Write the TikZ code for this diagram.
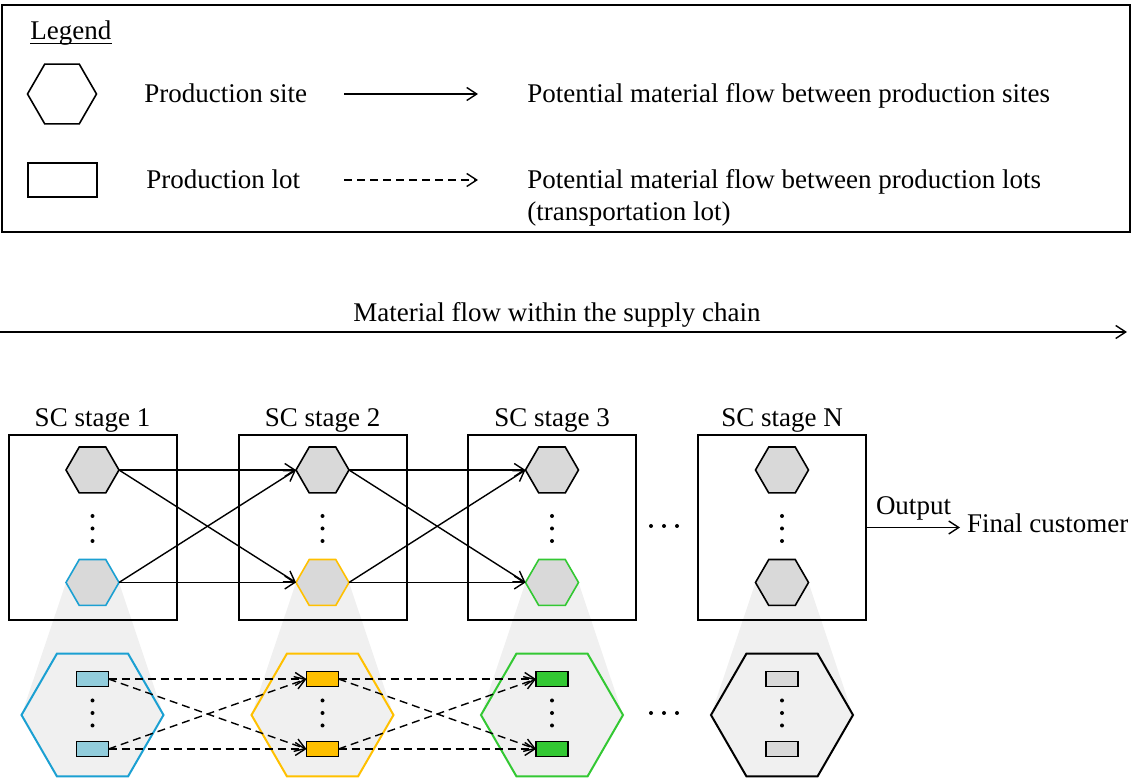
\documentclass[tikz,border=0pt]{standalone}
\usepackage{fontspec}
\setmainfont{Liberation Serif}
\usepackage{xcolor}
\usetikzlibrary{shapes.geometric,arrows.meta,positioning,backgrounds}

\definecolor{siteblue}{RGB}{27,160,210}
\definecolor{siteyellow}{RGB}{255,192,0}
\definecolor{sitegreen}{RGB}{51,200,51}
\definecolor{lotblue}{RGB}{146,205,220}
\definecolor{hexgray}{RGB}{217,217,217}
\definecolor{zoomgray}{RGB}{240,240,240}

\begin{document}
\begin{tikzpicture}[
    x=0.5pt, y=-0.5pt,
    font=\fontsize{13.5}{16}\selectfont,
    txt/.style={anchor=base west, inner sep=0pt, align=left},
    stagebox/.style={rectangle, draw, line width=1pt, minimum width=84pt, minimum height=92.5pt},
    site/.style={regular polygon, regular polygon sides=6, draw, line width=0.8pt, fill=hexgray, minimum size=26.5pt, inner sep=0pt, outer sep=0pt},
    bigsite/.style={regular polygon, regular polygon sides=6, draw, line width=1pt, fill=zoomgray, minimum size=71pt, inner sep=0pt, outer sep=0pt},
    lot/.style={rectangle, draw, line width=0.6pt, minimum width=16pt, minimum height=7.5pt, inner sep=0pt, outer sep=0pt},
    arrow/.style={-{Straight Barb[length=5pt,width=6.5pt]}, line width=0.7pt},
    dasharrow/.style={arrow, dash pattern=on 4pt off 2.5pt},
    vdots/.pic={\fill (0,-12.5) circle (1pt) (0,0) circle (1pt) (0,12.5) circle (1pt);},
    hdots/.pic={\fill (-13,0) circle (1pt) (0,0) circle (1pt) (13,0) circle (1pt);}
]
    \useasboundingbox (0,0) rectangle (1132,780);

    % legend
    \draw[line width=1.2pt] (2,5) rectangle (1130,232);
    \node[txt] (legend) at (30,40) {Legend};
    \draw[line width=0.6pt] ([yshift=-1.6pt]legend.base west) -- ([yshift=-1.6pt]legend.base east);
    \node[site, fill=none, minimum size=34.5pt] (lsite) at (62,94) {};
    \node[lot, line width=0.8pt, minimum width=34.5pt, minimum height=17pt] (llot) at (62.5,180) {};
    \node[txt] (lsitetxt) at (144,103) {Production site};
    \node[txt] (llottxt) at (146,189) {Production lot};
    \coordinate (sa) at (344,94);
    \coordinate (sb) at (478,94);
    \coordinate (la) at (344,180);
    \coordinate (lb) at (478,180);
    \draw[arrow] (sa) -- (sb);
    \draw[dasharrow] (la) -- (lb);
    \node[txt] (sflow) at (527,103) {Potential material flow between production sites};
    \node[txt] (lflow) at (527,221) {Potential material flow between production lots\\(transportation lot)};

    % material flow
    \coordinate (mfa) at (0,332);
    \coordinate (mfb) at (1127,332);
    \draw[arrow] (mfa) -- (mfb);
    \node (mftxt) at (557,315) {Material flow within the supply chain};

    % SC stage 1
    \node[stagebox] (st1) at (92.5,527.5) {};
    \node[above=-2.5pt of st1] (st1lbl) {SC stage 1};
    \node[site] (s1a) at (92.5,470) {};
    \node[site, draw=siteblue] (s1b) at (92.5,582.5) {};
    \pic at (92.5,528.5) {vdots};
    \node[bigsite, draw=siteblue] (z1) at (92.5,715) {};
    \node[lot, fill=lotblue] (l1a) at (92.5,679) {};
    \node[lot, fill=lotblue] (l1b) at (92.5,749) {};
    \pic at (92.5,713) {vdots};

    % SC stage 2
    \node[stagebox] (st2) at (322.5,527.5) {};
    \node[above=-2.5pt of st2] (st2lbl) {SC stage 2};
    \node[site] (s2a) at (322.5,470) {};
    \node[site, draw=siteyellow] (s2b) at (322.5,582.5) {};
    \pic at (322.5,528.5) {vdots};
    \node[bigsite, draw=siteyellow] (z2) at (322.5,715) {};
    \node[lot, fill=siteyellow] (l2a) at (322.5,679) {};
    \node[lot, fill=siteyellow] (l2b) at (322.5,749) {};
    \pic at (322.5,713) {vdots};

    % SC stage 3
    \node[stagebox] (st3) at (552,527.5) {};
    \node[above=-2.5pt of st3] (st3lbl) {SC stage 3};
    \node[site] (s3a) at (552,470) {};
    \node[site, draw=sitegreen] (s3b) at (552,582.5) {};
    \pic at (552,528.5) {vdots};
    \node[bigsite, draw=sitegreen] (z3) at (552,715) {};
    \node[lot, fill=sitegreen] (l3a) at (552,679) {};
    \node[lot, fill=sitegreen] (l3b) at (552,749) {};
    \pic at (552,713) {vdots};

    \pic at (664,526) {hdots};
    \pic at (664,713) {hdots};

    % SC stage N
    \node[stagebox] (stN) at (782,527.5) {};
    \node[above=-2.5pt of stN] (stNlbl) {SC stage N};
    \node[site] (sNa) at (782,470) {};
    \node[site] (sNb) at (782,582.5) {};
    \pic at (782,528.5) {vdots};
    \node[bigsite] (zN) at (782,715) {};
    \node[lot, fill=hexgray] (lNa) at (782,679) {};
    \node[lot, fill=hexgray] (lNb) at (782,749) {};
    \pic at (782,713) {vdots};

    % zoom funnels
    \begin{scope}[on background layer]
        \fill[zoomgray] (s1b.west) -- (s1b.east) -- (z1.east) -- (z1.west) -- cycle;
        \fill[zoomgray] (s2b.west) -- (s2b.east) -- (z2.east) -- (z2.west) -- cycle;
        \fill[zoomgray] (s3b.west) -- (s3b.east) -- (z3.east) -- (z3.west) -- cycle;
        \fill[zoomgray] (sNb.west) -- (sNb.east) -- (zN.east) -- (zN.west) -- cycle;
    \end{scope}

    % flows between sites
    \draw[arrow] (s1a.east) -- (s2a.west);
    \draw[arrow] (s1a.east) -- (s2b.west);
    \draw[arrow] (s1b.east) -- (s2a.west);
    \draw[arrow] (s1b.east) -- (s2b.west);
    \draw[arrow] (s2a.east) -- (s3a.west);
    \draw[arrow] (s2a.east) -- (s3b.west);
    \draw[arrow] (s2b.east) -- (s3a.west);
    \draw[arrow] (s2b.east) -- (s3b.west);

    % flows between lots
    \draw[dasharrow] (l1a.east) -- (l2a.west);
    \draw[dasharrow] (l1a.east) -- (l2b.west);
    \draw[dasharrow] (l1b.east) -- (l2a.west);
    \draw[dasharrow] (l1b.east) -- (l2b.west);
    \draw[dasharrow] (l2a.east) -- (l3a.west);
    \draw[dasharrow] (l2a.east) -- (l3b.west);
    \draw[dasharrow] (l2b.east) -- (l3a.west);
    \draw[dasharrow] (l2b.east) -- (l3b.west);

    % output
    \node[anchor=west] (cust) at (960,523) {Final customer};
    \draw[arrow] (stN.east) -- (stN.east -| cust.west) node[midway, above] {Output};
\end{tikzpicture}
\end{document}
